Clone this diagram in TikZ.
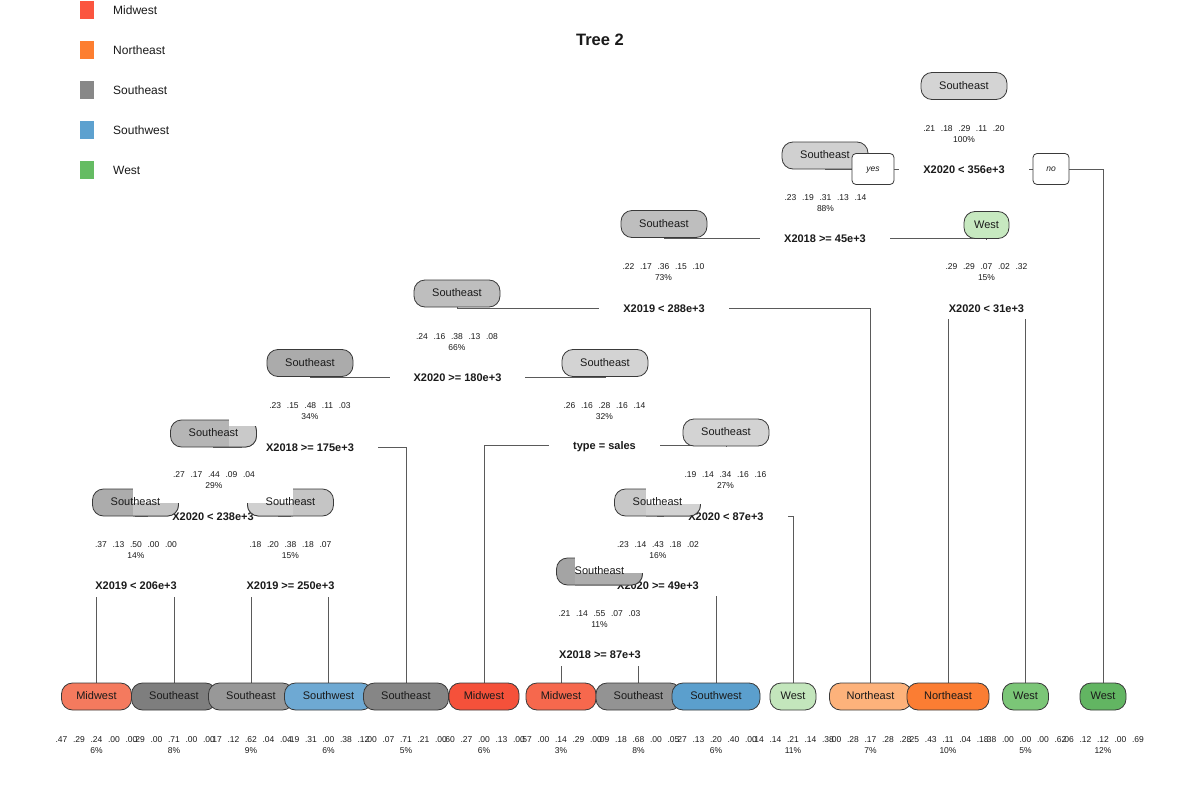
\documentclass[tikz,border=0pt]{standalone}
\usepackage{fontspec}
\setmainfont{Liberation Sans}
\usetikzlibrary{backgrounds}

% legend colours
\definecolor{kmw}{HTML}{FB553F}
\definecolor{kne}{HTML}{FD7E30}
\definecolor{kse}{HTML}{888888}
\definecolor{ksw}{HTML}{5DA1CF}
\definecolor{kwe}{HTML}{65BC63}
% outlines, links, text
\definecolor{bdc}{HTML}{3A3A3A}
\definecolor{linkc}{HTML}{5A5A5A}
\definecolor{txc}{HTML}{1A1A1A}
% split node fills
\definecolor{g1}{HTML}{D4D4D4}
\definecolor{g2}{HTML}{D0D0D0}
\definecolor{g3}{HTML}{C7E9C0}
\definecolor{g4}{HTML}{BEBEBE}
\definecolor{g5}{HTML}{BEBEBE}
\definecolor{g6}{HTML}{ABABAB}
\definecolor{g7}{HTML}{D3D3D3}
\definecolor{g8}{HTML}{B5B5B5}
\definecolor{g8l}{HTML}{C9C9C9}
\definecolor{g9}{HTML}{D3D3D3}
\definecolor{g10}{HTML}{C8C8C8}
\definecolor{g10l}{HTML}{D2D2D2}
\definecolor{g11}{HTML}{A4A4A4}
\definecolor{g11l}{HTML}{ADADAD}
\definecolor{g12}{HTML}{ACACAC}
\definecolor{g12l}{HTML}{C4C4C4}
\definecolor{g13}{HTML}{C5C5C5}
\definecolor{g13l}{HTML}{D0D0D0}
% leaf fills
\definecolor{f1}{HTML}{F47A5E}
\definecolor{f2}{HTML}{7E7E7E}
\definecolor{f3}{HTML}{989898}
\definecolor{f4}{HTML}{6EA9D3}
\definecolor{f5}{HTML}{868686}
\definecolor{f6}{HTML}{F5513A}
\definecolor{f7}{HTML}{F6684D}
\definecolor{f8}{HTML}{939393}
\definecolor{f9}{HTML}{5B9FCD}
\definecolor{f10}{HTML}{C3E6BC}
\definecolor{f11}{HTML}{FDB27B}
\definecolor{f12}{HTML}{FB7D33}
\definecolor{f13}{HTML}{7BC677}
\definecolor{f14}{HTML}{62B562}

\newcommand\statline[5]{#1\hspace{5.7pt}#2\hspace{5.7pt}#3\hspace{5.7pt}#4\hspace{5.7pt}#5}

\tikzset{
  lnk/.style={draw=linkc, line width=0.9pt},
  nbox/.style={draw=bdc, line width=0.8pt, rounded corners=11pt,
    minimum height=27pt, inner sep=0pt, text height=7.5pt, text depth=1.5pt,
    font=\fontsize{11}{13}\selectfont, text=txc},
  boxtext/.style={inner sep=0pt, text height=7.5pt, text depth=1.5pt,
    font=\fontsize{11}{13}\selectfont, text=txc},
  ibox/.style={nbox, minimum width=86pt},
  wbox/.style={nbox, minimum width=45pt},
  lmw/.style={nbox, minimum width=70pt},
  lse/.style={nbox, minimum width=85pt},
  lsw/.style={nbox, minimum width=88pt},
  lwe/.style={nbox, minimum width=46pt},
  lne/.style={nbox, minimum width=82pt},
  split/.style={fill=white, inner xsep=24pt, inner ysep=7pt, text height=8pt,
    text depth=0pt, font=\bfseries\fontsize{11}{13}\selectfont, text=txc},
  stat/.style={inner sep=0pt, align=center, font=\fontsize{8.5}{11}\selectfont, text=txc},
  yn/.style={draw=bdc, fill=white, line width=0.8pt, rounded corners=4pt,
    minimum height=31pt, inner sep=0pt, text height=6pt, text depth=1.5pt,
    font=\itshape\fontsize{8.5}{10}\selectfont, text=txc},
  lgsq/.style={minimum width=14pt, minimum height=18.5pt, inner sep=0pt},
  lgtx/.style={anchor=west, inner sep=0pt, text height=8.6pt, text depth=0pt,
    font=\fontsize{12}{14}\selectfont, text=txc}
}

\begin{document}
\begin{tikzpicture}[x=1pt, y=-1pt]
\useasboundingbox (0,0) rectangle (1200,800);

% ---------- legend ----------
\node[lgsq, fill=kmw] (k1) at (87,10) {};
\node[lgsq, fill=kne] (k2) at (87,50) {};
\node[lgsq, fill=kse] (k3) at (87,90) {};
\node[lgsq, fill=ksw] (k4) at (87,130) {};
\node[lgsq, fill=kwe] (k5) at (87,170) {};
\node[lgtx] (k1t) at (113,10) {Midwest};
\node[lgtx] (k2t) at (113,50) {Northeast};
\node[lgtx] (k3t) at (113,90) {Southeast};
\node[lgtx] (k4t) at (113,130) {Southwest};
\node[lgtx] (k5t) at (113,170) {West};

% ---------- title ----------
\node[inner sep=0pt, text height=12pt, text depth=0pt,
      font=\bfseries\fontsize{16.5}{18}\selectfont, text=txc] (title) at (600,40) {Tree 2};

% ---------- class / probability / percent ----------
\node[stat] (t1) at (964,134.5) {\statline{.21}{.18}{.29}{.11}{.20}\\100\%};
\node[stat] (t2) at (825.5,203.5) {\statline{.23}{.19}{.31}{.13}{.14}\\88\%};
\node[stat] (t3) at (986.5,272.5) {\statline{.29}{.29}{.07}{.02}{.32}\\15\%};
\node[stat] (t4) at (663.5,272.5) {\statline{.22}{.17}{.36}{.15}{.10}\\73\%};
\node[stat] (t5) at (457,342) {\statline{.24}{.16}{.38}{.13}{.08}\\66\%};
\node[stat] (t6) at (310,411) {\statline{.23}{.15}{.48}{.11}{.03}\\34\%};
\node[stat] (t7) at (604.5,411.5) {\statline{.26}{.16}{.28}{.16}{.14}\\32\%};
\node[stat] (t8) at (214,480.5) {\statline{.27}{.17}{.44}{.09}{.04}\\29\%};
\node[stat] (t9) at (725.5,480.5) {\statline{.19}{.14}{.34}{.16}{.16}\\27\%};
\node[stat] (t10) at (658,550.5) {\statline{.23}{.14}{.43}{.18}{.02}\\16\%};
\node[stat] (t11) at (599.5,619) {\statline{.21}{.14}{.55}{.07}{.03}\\11\%};
\node[stat] (t12) at (136,550.5) {\statline{.37}{.13}{.50}{.00}{.00}\\14\%};
\node[stat] (t13) at (290.5,550.5) {\statline{.18}{.20}{.38}{.18}{.07}\\15\%};

% leaf statistics
\node[stat] (u1) at (96.5,745) {\statline{.47}{.29}{.24}{.00}{.00}\\6\%};
\node[stat] (u2) at (174,745) {\statline{.29}{.00}{.71}{.00}{.00}\\8\%};
\node[stat] (u3) at (251,745) {\statline{.17}{.12}{.62}{.04}{.04}\\9\%};
\node[stat] (u4) at (328.5,745) {\statline{.19}{.31}{.00}{.38}{.12}\\6\%};
\node[stat] (u5) at (406,745) {\statline{.00}{.07}{.71}{.21}{.00}\\5\%};
\node[stat] (u6) at (484,745) {\statline{.60}{.27}{.00}{.13}{.00}\\6\%};
\node[stat] (u7) at (561,745) {\statline{.57}{.00}{.14}{.29}{.00}\\3\%};
\node[stat] (u8) at (638.5,745) {\statline{.09}{.18}{.68}{.00}{.05}\\8\%};
\node[stat] (u9) at (716,745) {\statline{.27}{.13}{.20}{.40}{.00}\\6\%};
\node[stat] (u10) at (793,745) {\statline{.14}{.14}{.21}{.14}{.38}\\11\%};
\node[stat] (u11) at (870.5,745) {\statline{.00}{.28}{.17}{.28}{.28}\\7\%};
\node[stat] (u12) at (948,745) {\statline{.25}{.43}{.11}{.04}{.18}\\10\%};
\node[stat] (u13) at (1025.5,745) {\statline{.38}{.00}{.00}{.00}{.62}\\5\%};
\node[stat] (u14) at (1103,745) {\statline{.06}{.12}{.12}{.00}{.69}\\12\%};

% ---------- split labels ----------
\node[split] (s1) at (964,169) {X2020 < 356e+3};
\node[split] (s2) at (825,238.5) {X2018 >= 45e+3};
\node[split] (s3) at (986.5,308) {X2020 < 31e+3};
\node[split] (s4) at (664,308) {X2019 < 288e+3};
\node[split] (s5) at (457.5,377) {X2020 >= 180e+3};
\node[split] (s6) at (310,447) {X2018 >= 175e+3};
\node[split] (s7) at (604.5,445.5) {type = sales};
\node[split] (s9) at (726,516) {X2020 < 87e+3};
\node[split] (s10) at (658,585) {X2020 >= 49e+3};
\node[split] (s11) at (600,654.5) {X2018 >= 87e+3};
\node[split] (s12) at (136,585.5) {X2019 < 206e+3};
\node[split] (s13) at (290.5,585.5) {X2019 >= 250e+3};
\node[split] (s8) at (213,516) {X2020 < 238e+3};

% ---------- leaves ----------
\node[lmw, fill=f1] (l1) at (96.5,696.5) {Midwest};
\node[lse, fill=f2] (l2) at (174,696.5) {Southeast};
\node[lse, fill=f3] (l3) at (251,696.5) {Southeast};
\node[lsw, fill=f4] (l4) at (328.5,696.5) {Southwest};
\node[lse, fill=f5] (l5) at (406,696.5) {Southeast};
\node[lmw, fill=f6] (l6) at (484,696.5) {Midwest};
\node[lmw, fill=f7] (l7) at (561,696.5) {Midwest};
\node[lse, fill=f8] (l8) at (638.5,696.5) {Southeast};
\node[lsw, fill=f9] (l9) at (716,696.5) {Southwest};
\node[lwe, fill=f10] (l10) at (793,696.5) {West};
\node[lne, fill=f11] (l11) at (870.5,696.5) {Northeast};
\node[lne, fill=f12] (l12) at (948,696.5) {Northeast};
\node[lwe, fill=f13] (l13) at (1025.5,696.5) {West};
\node[lwe, fill=f14] (l14) at (1103,696.5) {West};

% ---------- split nodes ----------
\node[ibox, fill=g1] (n1) at (964,86) {Southeast};
\node[ibox, fill=g2] (n2) at (825,155.5) {Southeast};
\node[wbox, fill=g3] (n3) at (986.5,225) {West};
\node[ibox, fill=g4] (n4) at (664,224) {Southeast};
\node[ibox, fill=g5] (n5) at (457,293.5) {Southeast};
\node[ibox, fill=g6] (n6) at (310,363) {Southeast};
\node[ibox, fill=g7] (n7) at (605,363) {Southeast};
\node[ibox, fill=g9] (n9) at (726,432.5) {Southeast};

% node 29%: top-right corner cut away
\node[ibox, fill=g8] (n8) at (213.5,433.5) {};
\begin{scope}
  \clip (229,426) rectangle (262,452);
  \node[ibox, fill=g8l] (n8b) at (213.5,433.5) {};
\end{scope}
\fill[white] (229,418) rectangle (262,426);
\node[boxtext] (n8t) at (213.5,433.5) {Southeast};

% node 14%: top-right corner cut away
\node[ibox, fill=g12] (n12) at (135.5,502.5) {};
\begin{scope}
  \clip (133,503) rectangle (184,520);
  \node[ibox, fill=g12l] (n12b) at (135.5,502.5) {};
\end{scope}
\fill[white] (133,486) rectangle (184,503);
\node[boxtext] (n12t) at (135.5,502.5) {Southeast};

% node 15%: top-left corner cut away
\node[ibox, fill=g13] (n13) at (290.5,502.5) {};
\begin{scope}
  \clip (242,503) rectangle (293,520);
  \node[ibox, fill=g13l] (n13b) at (290.5,502.5) {};
\end{scope}
\fill[white] (242,486) rectangle (293,503);
\node[boxtext] (n13t) at (290.5,502.5) {Southeast};

% node 16%: top-right corner cut away
\node[ibox, fill=g10] (n10) at (657.5,502.5) {};
\begin{scope}
  \clip (646,504) rectangle (706,520);
  \node[ibox, fill=g10l] (n10b) at (657.5,502.5) {};
\end{scope}
\fill[white] (646,486) rectangle (706,504);
\node[boxtext] (n10t) at (657.5,502.5) {Southeast};

% node 11%: top-right corner cut away
\node[ibox, fill=g11] (n11) at (599.5,571.5) {};
\begin{scope}
  \clip (575,573) rectangle (648,590);
  \node[ibox, fill=g11l] (n11b) at (599.5,571.5) {};
\end{scope}
\fill[white] (575,555) rectangle (648,573);
\node[boxtext] (n11t) at (599.5,571.5) {Southeast};

% ---------- yes / no ----------
\node[yn, minimum width=42pt] (yes) at (873,169) {yes};
\node[yn, minimum width=36pt] (no) at (1051,169) {no};

% ---------- branches (behind all labels and boxes) ----------
\begin{pgfonlayer}{background}
  \fill[white] (0,0) rectangle (1200,800);
  \draw[lnk] (s1.center) -| (n2.south);
  \draw[lnk] (s1.center) -| (l14.north);
  \draw[lnk] (s2.center) -| (n4.south);
  \draw[lnk] (s2.center) -| (n3.south);
  \draw[lnk] (s3.center) -| (l12.north);
  \draw[lnk] (s3.center) -| (l13.north);
  \draw[lnk] (s4.center) -| (n5.south);
  \draw[lnk] (s4.center) -| (l11.north);
  \draw[lnk] (s5.center) -| (n6.south);
  \draw[lnk] (s5.center) -| (n7.south);
  \draw[lnk] (s6.center) -| (n8.south);
  \draw[lnk] (s6.center) -| (l5.north);
  \draw[lnk] (s7.center) -| (l6.north);
  \draw[lnk] (s7.center) -| (n9.south);
  \draw[lnk] (s8.center) -| (n12.south);
  \draw[lnk] (s8.center) -| (n13.south);
  \draw[lnk] (s9.center) -| (n10.south);
  \draw[lnk] (s9.center) -| (l10.north);
  \draw[lnk] (s10.center) -| (n11.south);
  \draw[lnk] (s10.center) -| (l9.north);
  \draw[lnk] (s11.center) -| (l7.north);
  \draw[lnk] (s11.center) -| (l8.north);
  \draw[lnk] (s12.center) -| (l1.north);
  \draw[lnk] (s12.center) -| (l2.north);
  \draw[lnk] (s13.center) -| (l3.north);
  \draw[lnk] (s13.center) -| (l4.north);
\end{pgfonlayer}
\end{tikzpicture}
\end{document}
